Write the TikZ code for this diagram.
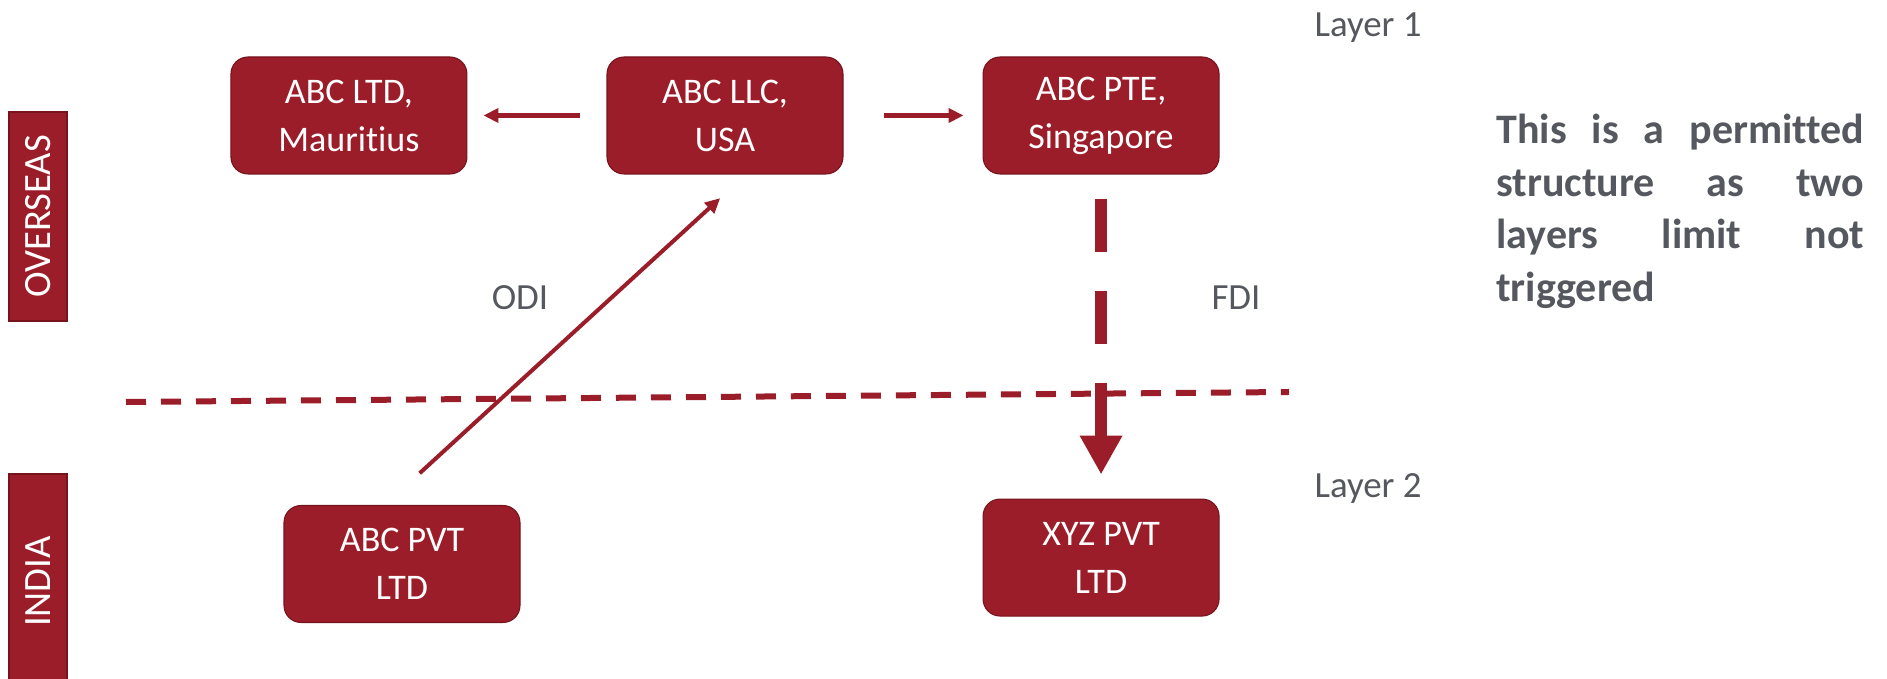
\documentclass[tikz,border=0pt]{standalone}
\usepackage{fontspec}
\setmainfont{Carlito}[RawFeature={-liga;-clig;-calt;-dlig}]
\usetikzlibrary{arrows.meta, positioning, calc}
\definecolor{entitycolor}{RGB}{155, 29, 41}
\definecolor{edgecolor}{RGB}{118, 20, 30}
\definecolor{labelcolor}{RGB}{85, 88, 94}
\tikzset{
    % Company boxes
    entitynode/.style={
        draw=edgecolor, line width=0.6pt, fill=entitycolor,
        text=white, align=center, inner sep=0pt,
        font=\fontsize{20.5pt}{27.3pt}\selectfont,
        minimum width=4.72cm, minimum height=2.34cm,
        rounded corners=0.34cm
    },
    % Side bars (jurisdiction)
    regionbar/.style={
        draw=edgecolor, line width=0.6pt, fill=entitycolor,
        text=white, rotate=90, inner sep=0pt,
        font=\fontsize{22pt}{26pt}\selectfont,
        minimum width=4.18cm, minimum height=1.16cm
    },
    % Arrows
    smallarrow/.style={-{Triangle[length=0.3cm, width=0.28cm]}, line width=0.1cm, entitycolor},
    odiarrow/.style={-{Triangle[length=0.3cm, width=0.28cm]}, line width=0.08cm, entitycolor},
    fdiarrow/.style={-{Triangle[length=0.78cm, width=0.8cm]}, line width=0.25cm, entitycolor,
        dash pattern=on 1.06cm off 0.78cm},
    borderline/.style={line width=0.12cm, entitycolor, dash pattern=on 0.4cm off 0.3cm},
    % Labels
    flowlabel/.style={font=\fontsize{21pt}{25pt}\selectfont, text=labelcolor, inner sep=0pt},
    notetext/.style={font=\bfseries\fontsize{23.9pt}{29.8pt}\selectfont, text=labelcolor,
        text width=7.36cm, align=justify, inner sep=0pt},
}

\begin{document}
\begin{tikzpicture}
\useasboundingbox (0,0) rectangle (37.74,13.58);

% Jurisdiction bars
\node (overseas) [regionbar] at (0.76,9.25) {OVERSEAS};
\node (india) [regionbar, minimum width=4.3cm] at (0.76,1.95) {INDIA};

% Layer 1: overseas entities
\node (llc) [entitynode] at (14.50,11.27) {ABC LLC,\\USA};
\node (mauritius) [entitynode, left=2.78cm of llc] {ABC LTD,\\Mauritius};
\node (pte) [entitynode, right=2.78cm of llc] {ABC PTE,\\Singapore};

% Layer 2: Indian entities
\node (abcpvt) [entitynode] at (8.04,2.30) {ABC PVT\\LTD};
\node (xyz) [entitynode, below=6.48cm of pte] {XYZ PVT\\LTD};

% Border line
\coordinate (borderW) at (2.52,5.54);
\coordinate (borderE) at (25.78,5.74);
\draw[borderline] (borderW) -- (borderE);

% Arrows
\draw[smallarrow, shorten <=0.52cm, shorten >=0.32cm] (llc) -- (mauritius);
\draw[smallarrow, shorten <=0.8cm, shorten >=0.38cm] (llc) -- (pte);
\draw[odiarrow, shorten <=0.94cm, shorten >=0.7cm] ([xshift=-0.34cm]abcpvt.north) -- ([xshift=0.42cm]llc.south);
\draw[fdiarrow, shorten <=0.48cm, shorten >=0.48cm] (pte) -- (xyz);

% Labels
\node (odi) [flowlabel, anchor=base] at (10.40,7.38) {ODI};
\node (fdi) [flowlabel, anchor=base] at (24.72,7.38) {FDI};
\node (layer1) [flowlabel, anchor=base] at (27.36,12.84) {Layer 1};
\node (layer2) [flowlabel, anchor=base] at (27.36,3.62) {Layer 2};

% Note
\node (note) [notetext, anchor=base west] at (29.92,10.70) {This is a permitted\linebreak structure as two\linebreak layers limit not\linebreak triggered};

\end{tikzpicture}
\end{document}
